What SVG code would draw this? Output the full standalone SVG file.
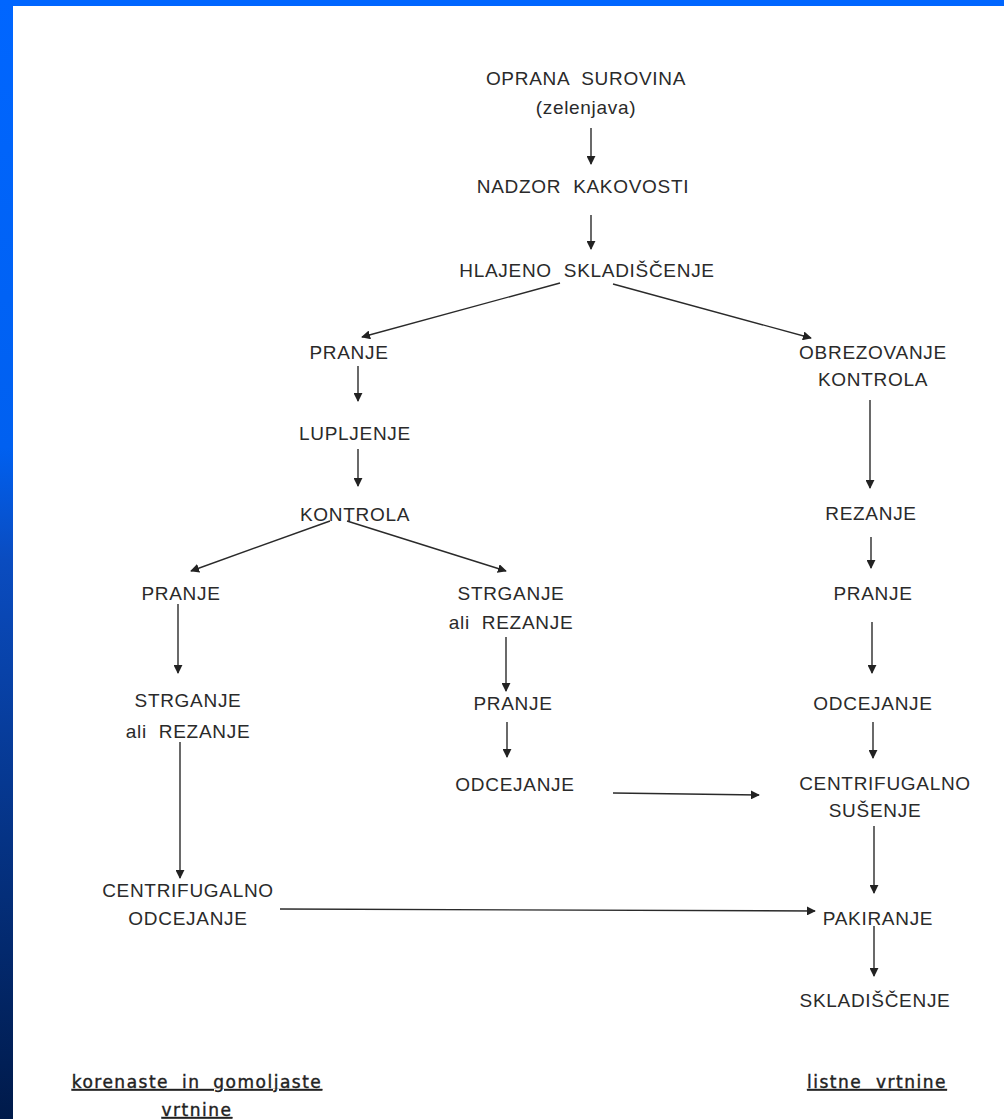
<svg xmlns="http://www.w3.org/2000/svg" width="1004" height="1119" viewBox="0 0 1004 1119">
<defs>
<linearGradient id="lb" x1="0" y1="0" x2="0" y2="1">
<stop offset="0" stop-color="#0066ff"/>
<stop offset="0.4" stop-color="#0060f0"/>
<stop offset="0.5" stop-color="#0a4cc0"/>
<stop offset="1" stop-color="#001a4a"/>
</linearGradient>
<marker id="ah" viewBox="0 0 10 10" refX="9" refY="5" markerWidth="9" markerHeight="9" markerUnits="userSpaceOnUse" orient="auto">
<path d="M0,0 L10,5 L0,10 z" fill="#222"/>
</marker>
<style>
text{font-family:"Liberation Sans",Arial,sans-serif;font-size:19px;letter-spacing:0.7px;fill:#2a2a2a;text-anchor:middle;white-space:pre}
text.lbl{font-family:"DejaVu Sans",sans-serif;font-size:17px;letter-spacing:1.5px;fill:#222;stroke:#222;stroke-width:0.4;text-decoration:underline}
text.wide{word-spacing:6px}
.c line{stroke:#2a2a2a;stroke-width:1.4;marker-end:url(#ah)}
</style>
</defs>
<rect width="1004" height="1119" fill="#ffffff"/>
<rect x="0" y="0" width="1004" height="6" fill="#0066ff"/>
<rect x="0" y="0" width="13" height="1119" fill="url(#lb)"/>

<g class="c" id="connectors">
<line x1="591" y1="128" x2="591" y2="164"/>
<line x1="591" y1="215" x2="591" y2="249"/>
<line x1="560" y1="283" x2="362" y2="337"/>
<line x1="613" y1="284" x2="811" y2="338"/>
<line x1="358" y1="366" x2="358" y2="401"/>
<line x1="358" y1="449" x2="358" y2="486"/>
<line x1="330" y1="521" x2="191" y2="571"/>
<line x1="347" y1="521" x2="506" y2="571"/>
<line x1="178" y1="604" x2="178" y2="673"/>
<line x1="180" y1="742" x2="180" y2="878"/>
<line x1="280" y1="909" x2="815" y2="911"/>
<line x1="506" y1="637" x2="506" y2="691"/>
<line x1="507" y1="722" x2="507" y2="757"/>
<line x1="613" y1="793" x2="759" y2="795"/>
<line x1="870" y1="400" x2="870" y2="488"/>
<line x1="871" y1="537" x2="871" y2="568"/>
<line x1="872" y1="622" x2="872" y2="673"/>
<line x1="873" y1="722" x2="873" y2="758"/>
<line x1="874" y1="826" x2="874" y2="893"/>
<line x1="874" y1="926" x2="874" y2="976"/>
</g>

<g id="n-oprana"><text x="586" y="85">OPRANA  SUROVINA</text><text x="586" y="114">(zelenjava)</text></g>
<g id="n-nadzor"><text x="583" y="193">NADZOR  KAKOVOSTI</text></g>
<g id="n-hlajeno"><text x="587" y="277">HLAJENO  SKLADIŠČENJE</text></g>
<g id="n-pranje1"><text x="349" y="359">PRANJE</text></g>
<g id="n-lupljenje"><text x="355" y="440">LUPLJENJE</text></g>
<g id="n-kontrola"><text x="355" y="521">KONTROLA</text></g>
<g id="n-pranje2"><text x="181" y="600">PRANJE</text></g>
<g id="n-strganje1"><text x="188" y="707">STRGANJE</text><text x="188" y="738">ali  REZANJE</text></g>
<g id="n-centri1"><text x="188" y="897">CENTRIFUGALNO</text><text x="188" y="925">ODCEJANJE</text></g>
<g id="n-strganje2"><text x="511" y="600">STRGANJE</text><text x="511" y="629">ali  REZANJE</text></g>
<g id="n-pranje3"><text x="513" y="710">PRANJE</text></g>
<g id="n-odcejanje1"><text x="515" y="791">ODCEJANJE</text></g>
<g id="n-obrezovanje"><text x="873" y="359">OBREZOVANJE</text><text x="873" y="386">KONTROLA</text></g>
<g id="n-rezanje"><text x="871" y="520">REZANJE</text></g>
<g id="n-pranje4"><text x="873" y="600">PRANJE</text></g>
<g id="n-odcejanje2"><text x="873" y="710">ODCEJANJE</text></g>
<g id="n-centri2"><text x="885" y="790">CENTRIFUGALNO</text><text x="875" y="817">SUŠENJE</text></g>
<g id="n-pakiranje"><text x="878" y="925">PAKIRANJE</text></g>
<g id="n-skladiscenje"><text x="875" y="1007">SKLADIŠČENJE</text></g>
<g id="lbl-left"><text class="lbl wide" x="197" y="1088">korenaste in gomoljaste</text><text class="lbl" x="197" y="1116">vrtnine</text></g>
<g id="lbl-right"><text class="lbl" x="877" y="1088">listne  vrtnine</text></g>
</svg>
